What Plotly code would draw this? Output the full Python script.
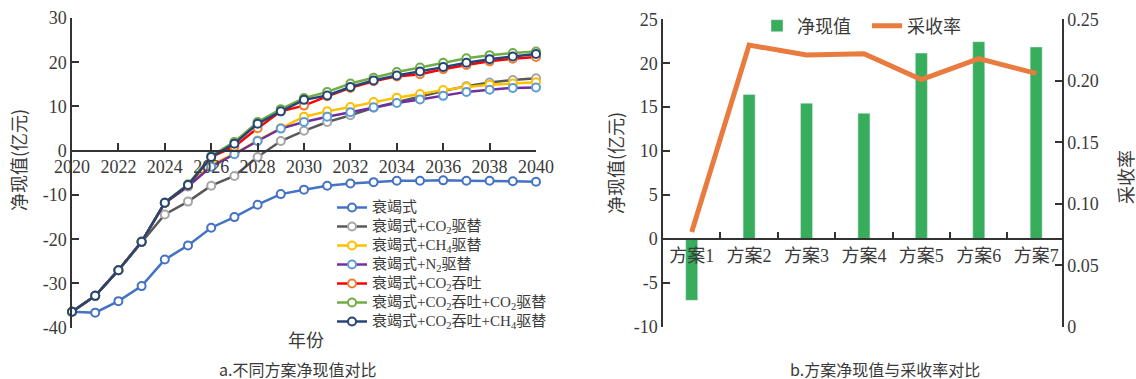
import plotly.graph_objects as go

W, H = 1136, 379

# ---------------- data: panel a ----------------
years = list(range(2020, 2041))
s_depletion = [-36.4, -36.6, -34.0, -30.6, -24.6, -21.4, -17.4, -15.0, -12.2, -9.8, -8.8,
               -7.9, -7.4, -7.1, -6.8, -6.8, -6.7, -6.8, -6.8, -6.9, -7.0]
s_co2_flood = [-36.4, -32.8, -27.0, -20.6, -14.4, -11.5, -7.9, -5.7, -1.4, 2.2, 4.5,
               6.5, 8.0, 9.7, 11.0, 12.2, 13.5, 14.6, 15.4, 16.0, 16.4]
s_ch4_flood = [-36.4, -32.8, -27.0, -20.6, -11.8, -8.0, -3.2, -0.7, 2.3, 5.1, 7.7,
               8.9, 9.9, 11.0, 12.0, 12.8, 13.7, 14.4, 14.9, 15.2, 15.45]
s_n2_flood = [-36.4, -32.8, -27.0, -20.6, -11.8, -8.1, -3.6, -0.8, 2.2, 5.0, 6.5,
              7.7, 8.7, 9.8, 10.8, 11.6, 12.4, 13.3, 13.8, 14.2, 14.3]
s_co2_huff = [-36.4, -32.8, -27.0, -20.6, -11.8, -7.9, -1.4, 0.9, 5.1, 8.9, 10.2,
              12.3, 14.2, 15.7, 16.8, 17.3, 18.4, 19.4, 20.2, 20.8, 21.2]
s_huff_co2 = [-36.4, -32.8, -27.0, -20.6, -11.7, -7.6, -1.2, 2.0, 6.5, 9.4, 11.9,
              13.3, 15.2, 16.5, 17.8, 18.8, 19.9, 20.9, 21.6, 22.1, 22.4]
s_huff_ch4 = [-36.4, -32.8, -27.0, -20.6, -11.75, -7.75, -1.4, 1.6, 6.1, 8.9, 11.5,
              12.5, 14.4, 15.9, 17.0, 17.9, 18.9, 19.9, 20.7, 21.3, 21.85]

series_names = [
    "衰竭式",
    "衰竭式+CO<sub>2</sub>驱替",
    "衰竭式+CH<sub>4</sub>驱替",
    "衰竭式+N<sub>2</sub>驱替",
    "衰竭式+CO<sub>2</sub>吞吐",
    "衰竭式+CO<sub>2</sub>吞吐+CO<sub>2</sub>驱替",
    "衰竭式+CO<sub>2</sub>吞吐+CH<sub>4</sub>驱替",
]
series_values = [s_depletion, s_co2_flood, s_ch4_flood, s_n2_flood,
                 s_co2_huff, s_huff_co2, s_huff_ch4]
line_colors = ["#4472C4", "#595959", "#FFC000", "#7030A0", "#FF0000", "#70AD47", "#264478"]
marker_colors = ["#4472C4", "#A5A5A5", "#FFC000", "#5B9BD5", "#ED7D31", "#70AD47", "#264478"]

y_a_ticks = [-40, -30, -20, -10, 0, 10, 20, 30]
y_a_labels = ["-40", "-30", "-20", "-10", "0", "10", "20", "30"]
x_a_ticks = list(range(2020, 2041, 2))

# ---------------- data: panel b ----------------
schemes = ["方案1", "方案2", "方案3", "方案4", "方案5", "方案6", "方案7"]
npv = [-7.0, 16.45, 15.45, 14.3, 21.15, 22.45, 21.85]
recovery = [0.077, 0.229, 0.221, 0.222, 0.201, 0.218, 0.206]
y_b_ticks = [-10, -5, 0, 5, 10, 15, 20, 25]
y_b_labels = ["-10", "-5", "0", "5", "10", "15", "20", "25"]
y_r_ticks = [0, 0.05, 0.10, 0.15, 0.20, 0.25]
y_r_labels = ["0", "0.05", "0.10", "0.15", "0.20", "0.25"]

# ---------------- figure ----------------
def px_x(p):
    return p / W

def px_y(p):
    return 1 - p / H

TXT = "#3a3a3a"
AX = "#333333"
FONT = "'Liberation Serif', 'Noto Sans CJK SC', serif"
CJK = "'Noto Sans CJK SC', 'Liberation Serif', sans-serif"

fig = go.Figure()

for name, vals, lc, mc in zip(series_names, series_values, line_colors, marker_colors):
    fig.add_trace(go.Scatter(
        x=years, y=vals, name='<span style="font-size:15px">' + name + '</span>',
        mode="lines+markers",
        line=dict(color=lc, width=2.5),
        marker=dict(symbol="circle", size=8, color="white",
                    line=dict(color=mc, width=2)),
        cliponaxis=False, xaxis="x", yaxis="y", legend="legend",
    ))

fig.add_trace(go.Bar(
    x=schemes, y=npv, name="净现值", marker=dict(color="#38AD5B"),
    width=0.21, xaxis="x2", yaxis="y2", legend="legend2",
))
fig.add_trace(go.Scatter(
    x=schemes, y=recovery, name="采收率", mode="lines",
    line=dict(color="#E97B3F", width=5), cliponaxis=False,
    xaxis="x2", yaxis="y3", legend="legend2",
))

axis_common = dict(showline=True, linecolor=AX, linewidth=1.5, ticks="inside",
                   tickcolor=AX, tickwidth=1.5, ticklen=7, showgrid=False,
                   zeroline=False, automargin=False,
                   tickfont=dict(family=FONT, size=18, color=TXT))

fig.update_layout(
    width=W, height=H,
    margin=dict(l=0, r=0, t=0, b=0, autoexpand=False),
    paper_bgcolor="white", plot_bgcolor="white",
    font=dict(family=FONT, color=TXT),
    xaxis=dict(domain=[px_x(72), px_x(536)], range=[2020, 2040],
               tickvals=x_a_ticks, anchor="free", position=px_y(150.7),
               **axis_common),
    yaxis=dict(domain=[px_y(327.7), px_y(18)], range=[-40, 30],
               tickvals=y_a_ticks, ticktext=y_a_labels, anchor="x",
               **axis_common),
    xaxis2=dict(domain=[px_x(663), px_x(1062)], range=[-0.5, 6.45],
                type="category", tickson="boundaries", anchor="free",
                position=px_y(239.3), **axis_common),
    yaxis2=dict(domain=[px_y(326.7), px_y(19.3)], range=[-10, 25],
                tickvals=y_b_ticks, ticktext=y_b_labels, anchor="x2",
                **axis_common),
    yaxis3=dict(range=[0, 0.25], tickvals=y_r_ticks, ticktext=y_r_labels,
                overlaying="y2", side="right", anchor="x2", **axis_common),
    legend=dict(x=px_x(332), y=px_y(193), xanchor="left", yanchor="top",
                bgcolor="rgba(0,0,0,0)", font=dict(family=FONT, size=12, color=TXT),
                tracegroupgap=0, itemwidth=30),
    legend2=dict(x=px_x(757), y=px_y(26), xanchor="left", yanchor="middle",
                 orientation="h", bgcolor="rgba(0,0,0,0)",
                 entrywidth=65, entrywidthmode="pixels",
                 font=dict(family=CJK, size=18, color=TXT)),
    showlegend=True,
    bargap=0.5,
)

annots = [
    dict(text="净现值(亿元)", x=px_x(18), y=px_y(160), textangle=-90, size=18),
    dict(text="年份", x=px_x(306), y=px_y(339), textangle=0, size=18),
    dict(text="a.不同方案净现值对比", x=px_x(297), y=px_y(369), textangle=0, size=16),
    dict(text="净现值(亿元)", x=px_x(615), y=px_y(163), textangle=-90, size=18),
    dict(text="采收率", x=px_x(1125), y=px_y(177), textangle=-90, size=18),
    dict(text="b.方案净现值与采收率对比", x=px_x(885), y=px_y(369), textangle=0, size=16),
]
for a in annots:
    fig.add_annotation(text=a["text"], x=a["x"], y=a["y"], xref="paper", yref="paper",
                       xanchor="center", yanchor="middle", showarrow=False,
                       textangle=a["textangle"],
                       font=dict(family=CJK, size=a["size"], color=TXT))

fig.write_html(
    "out.html",
    config={"displayModeBar": False},
    post_script="document.body.style.margin='0';document.body.style.overflow='hidden';",
)
